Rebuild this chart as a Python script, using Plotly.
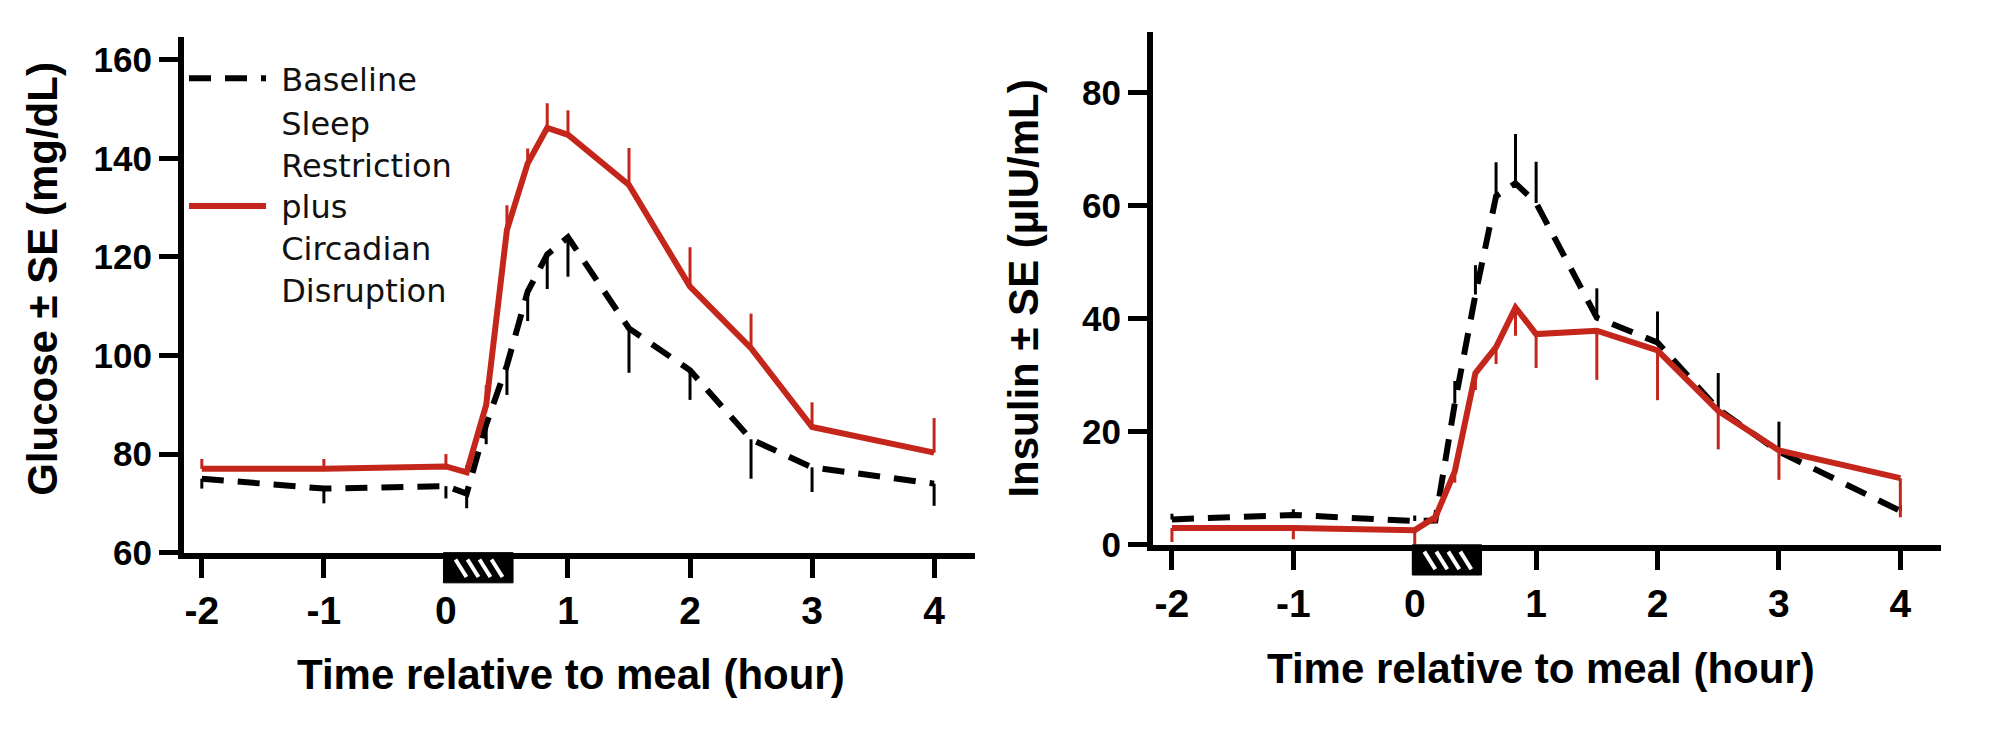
import plotly.graph_objects as go

# ---------------- data ----------------
time_h = [-2, -1, 0, 0.17, 0.33, 0.5, 0.67, 0.83, 1, 1.5, 2, 2.5, 3, 4]

glucose_baseline = [75, 73, 73.5, 72, 86, 98, 113, 120.5, 124, 105.5, 97, 83, 77.3, 74]
glucose_baseline_se = [2, 3, 2.5, 3, 4, 6, 6, 7, 8, 9, 6, 8, 5, 4.5]
glucose_srcd = [77, 77, 77.5, 76.3, 90, 125.5, 139, 146.2, 144.8, 134.6, 114, 101.5, 85.5, 80.3]
glucose_srcd_se = [2, 2, 2.5, 1.5, 4, 5, 3, 5, 5, 7.5, 8, 7, 5, 7]

insulin_baseline = [4.5, 5.3, 4.2, 4.3, 25, 44.3, 61.7, 64.0, 60.5, 40.2, 35.8, 24, 16.5, 6.0]
insulin_baseline_se = [1, 1, 1, 1, 4, 5.2, 6, 8.7, 7.3, 5.2, 5.5, 6.4, 5.3, 1]
insulin_srcd = [3.0, 3.0, 2.6, 4.9, 13.0, 30.4, 35.0, 42.0, 37.3, 37.9, 34.4, 23.7, 16.7, 11.8]
insulin_srcd_se = [2.5, 2, 2.6, 1, 2, 3, 3, 5, 6, 8.7, 8.8, 6.8, 5.2, 6.9]

x_ticks = [-2, -1, 0, 1, 2, 3, 4]
x_tick_text = ["-2", "-1", "0", "1", "2", "3", "4"]
glucose_ticks = [60, 80, 100, 120, 140, 160]
insulin_ticks = [0, 20, 40, 60, 80]

meal_start, meal_end = -0.02, 0.55

label_baseline = "Baseline"
label_srcd_lines = ["Sleep", "Restriction", "plus", "Circadian", "Disruption"]

# ---------------- style ----------------
W, H = 2000, 739
RED = "#c4261c"
BLACK = "#000000"
FONT = "Liberation Sans"
LEG_FONT = "DejaVu Sans"
PAD = "\u00a0"
zeros = [0] * len(time_h)

fig = go.Figure()

def add_pair(xa, ya, base, base_se, base_dir, sr, sr_se, sr_dir, show):
    def err(se, direction, color):
        return dict(type="data", symmetric=False,
                    array=se if direction == "up" else zeros,
                    arrayminus=se if direction == "down" else zeros,
                    color=color, thickness=3, width=0)
    fig.add_trace(go.Scatter(x=time_h, y=base, mode="lines",
                             name=PAD + label_baseline, legendgroup="base",
                             line=dict(color=BLACK, width=6, dash="22px,14px"),
                             error_y=err(base_se, base_dir, BLACK),
                             xaxis=xa, yaxis=ya, showlegend=show, legendrank=1))
    fig.add_trace(go.Scatter(x=time_h, y=sr, mode="lines",
                             name="<br>".join(PAD + s for s in label_srcd_lines),
                             legendgroup="srcd",
                             line=dict(color=RED, width=6),
                             error_y=err(sr_se, sr_dir, RED),
                             xaxis=xa, yaxis=ya, showlegend=show, legendrank=2))

add_pair("x", "y", glucose_baseline, glucose_baseline_se, "down",
         glucose_srcd, glucose_srcd_se, "up", True)
add_pair("x2", "y2", insulin_baseline, insulin_baseline_se, "up",
         insulin_srcd, insulin_srcd_se, "down", False)

# axis geometry (pixels in the 2000x739 page)
L_X0, L_X1, L_Y0, L_Y1 = 176, 967, 559, 30
R_X0, R_X1, R_Y0, R_Y1 = 1145, 1933, 551, 25
L_XR = [-2.146, 4.335]
R_XR = [-2.156, 4.335]
L_YR = [60, 164.6]
R_YR = [0, 90.7]

common_axis = dict(showline=True, linewidth=6, linecolor=BLACK, ticks="outside",
                   ticklen=19, tickwidth=5, tickcolor=BLACK, showgrid=False,
                   zeroline=False, fixedrange=True)
xtickfont = dict(family=FONT, size=39, color=BLACK, weight="bold")
ytickfont = dict(family=FONT, size=35, color=BLACK, weight="bold")

fig.update_layout(
    width=W, height=H, margin=dict(l=0, r=0, t=0, b=0),
    paper_bgcolor="white", plot_bgcolor="white",
    xaxis=dict(domain=[L_X0 / W, L_X1 / W], range=L_XR, tickvals=x_ticks,
               ticktext=x_tick_text, tickfont=xtickfont, anchor="y", **common_axis),
    yaxis=dict(domain=[1 - L_Y0 / H, 1 - L_Y1 / H], range=L_YR, tickvals=glucose_ticks,
               tickfont=ytickfont, anchor="x", **common_axis),
    xaxis2=dict(domain=[R_X0 / W, R_X1 / W], range=R_XR, tickvals=x_ticks,
                ticktext=x_tick_text, tickfont=xtickfont, anchor="y2", **common_axis),
    yaxis2=dict(domain=[1 - R_Y0 / H, 1 - R_Y1 / H], range=R_YR, tickvals=insulin_ticks,
                tickfont=ytickfont, anchor="x2", **common_axis),
    legend=dict(x=176 / W, y=1 - 44 / H, xanchor="left", yanchor="top",
                bgcolor="rgba(0,0,0,0)", borderwidth=0, itemwidth=77,
                font=dict(family=LEG_FONT, size=32, color="#111111"),
                valign="middle", traceorder="normal", itemclick=False,
                tracegroupgap=10),
    showlegend=True,
)

title_font = dict(family=FONT, size=42, color=BLACK, weight="bold")
annotations = [
    dict(text="Time relative to meal (hour)", x=563 / W, y=1 - 684 / H),
    dict(text="Time relative to meal (hour)", x=1533 / W, y=1 - 678 / H),
    dict(text="Glucose ± SE (mg/dL)", x=35 / W, y=1 - 278 / H, textangle=-90),
    dict(text="Insulin ± SE (µIU/mL)", x=1016 / W, y=1 - 288 / H, textangle=-90),
]
for a in annotations:
    fig.add_annotation(xref="paper", yref="paper", showarrow=False,
                       xanchor="center", yanchor="middle", font=title_font, **a)

# meal marker (hatched box just below each x axis)
def meal_box(x0px, x1px, xr, axis_y):
    def tx(t):
        return x0px + (t - xr[0]) / (xr[1] - xr[0]) * (x1px - x0px)
    bx0, bx1 = tx(meal_start), tx(meal_end)
    by0, by1 = axis_y, axis_y + 31
    fig.add_shape(type="rect", xref="paper", yref="paper",
                  x0=bx0 / W, x1=bx1 / W, y0=1 - by0 / H, y1=1 - by1 / H,
                  fillcolor=BLACK, line=dict(color=BLACK, width=1), layer="above")
    inner_top, inner_bot = by0 + 7, by1 - 6
    for k in range(4):
        sx = bx0 + 12 + k * 12
        fig.add_shape(type="line", xref="paper", yref="paper",
                      x0=sx / W, y0=1 - inner_top / H,
                      x1=(sx + 11) / W, y1=1 - inner_bot / H,
                      line=dict(color="white", width=4), layer="above")

meal_box(L_X0, L_X1, L_XR, L_Y0)
meal_box(R_X0, R_X1, R_XR, R_Y0)

fig.write_html("out.html")
